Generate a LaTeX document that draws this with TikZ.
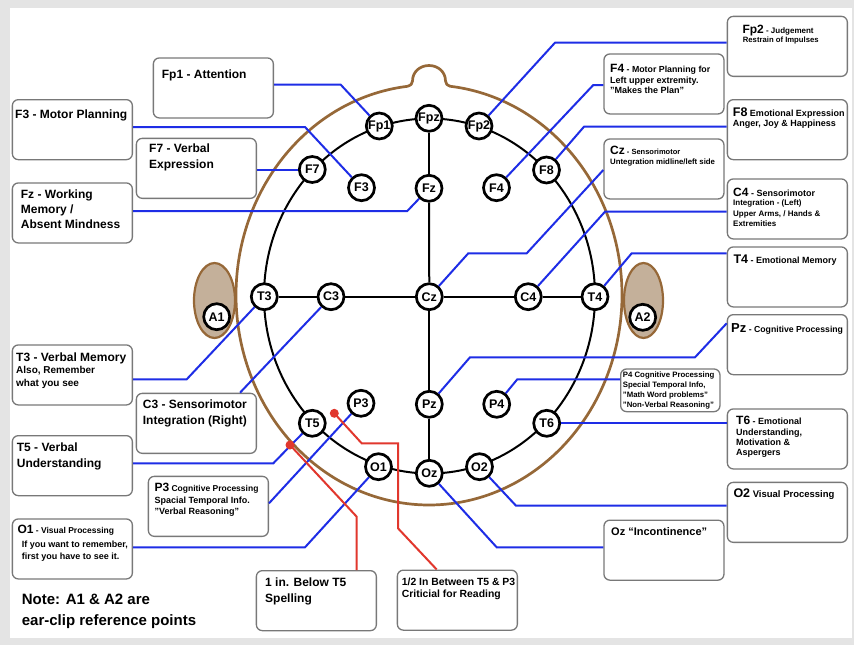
\documentclass[tikz,border=0pt]{standalone}
\usepackage{fontspec}
\setmainfont{Liberation Sans}
\newcommand{\setfs}[1]{\fontsize{#1}{#1}\selectfont}
\definecolor{headbrown}{RGB}{150,104,56}
\definecolor{earfill}{RGB}{196,176,154}
\definecolor{lineblue}{RGB}{30,45,230}
\definecolor{linered}{RGB}{225,55,45}
\definecolor{boxgray}{RGB}{120,120,120}
\definecolor{bggray}{RGB}{228,228,228}
\begin{document}
\begin{tikzpicture}[x=1pt,y=-1pt,
  elec/.style={circle, draw=black, line width=2.7pt, fill=white, minimum size=26pt, inner sep=0pt, font=\bfseries\setfs{12.5}},
  lbox/.style={draw=boxgray, line width=1.3pt, rounded corners=6pt, fill=white, minimum width=120pt, minimum height=60pt, inner sep=0pt, anchor=north west},
  txt/.style={anchor=base west, inner sep=0pt, font=\bfseries, text=black},
  bl/.style={draw=lineblue, line width=2pt},
  rd/.style={draw=linered, line width=2pt},
  wire/.style={draw=black, line width=2pt},
  reddot/.style={circle, fill=linered, minimum size=9pt, inner sep=0pt}]
\useasboundingbox (0,0) rectangle (854,645);
\fill[bggray] (0,0) rectangle (854,645);
\fill[white] (10,8) rectangle (851.5,637.5);

% ears
\draw[headbrown, fill=earfill, line width=2.2pt] (214.5,300.5) ellipse [x radius=20.5pt, y radius=37.5pt];
\draw[headbrown, fill=earfill, line width=2.2pt] (643.5,300.5) ellipse [x radius=19.5pt, y radius=37.5pt];
% head with nose
\draw[headbrown, line width=2.7pt, line join=round]
  plot[domain=96.25:443.75, samples=300] ({429+193*cos(\x)},{295-210*sin(\x)})
  .. controls (447.5,85.5) and (445.5,84) .. (445.5,81)
  .. controls (445.5,71.9) and (438.1,65.5) .. (429,65.5)
  .. controls (419.9,65.5) and (412.5,71.9) .. (412.5,81)
  .. controls (412.5,84) and (410.5,85.5) .. (408,86.25);
% inner ring
\draw[wire] (429.5,296) ellipse [x radius=165.5pt, y radius=177.5pt];

% electrodes
\node[elec] (Fpz) at (429,118.3) {Fpz};
\node[elec] (Fp1) at (379.3,126) {Fp1};
\node[elec] (Fp2) at (479,126) {Fp2};
\node[elec] (F7) at (312.3,169.5) {F7};
\node[elec] (F3) at (361.5,187.7) {F3};
\node[elec] (Fz) at (429,188.3) {Fz};
\node[elec] (F4) at (496.5,187.7) {F4};
\node[elec] (F8) at (546.5,170) {F8};
\node[elec] (T3) at (264.3,296.7) {T3};
\node[elec] (C3) at (331,296.7) {C3};
\node[elec] (Cz) at (429.3,296.7) {Cz};
\node[elec] (C4) at (528.3,296.7) {C4};
\node[elec] (T4) at (595,296.7) {T4};
\node[elec] (A1) at (216.7,316.7) {A1};
\node[elec] (A2) at (642.7,317.3) {A2};
\node[elec] (P3) at (361,403.3) {P3};
\node[elec] (Pz) at (429.3,404.3) {Pz};
\node[elec] (P4) at (496.7,404.3) {P4};
\node[elec] (T5) at (312.3,423.3) {T5};
\node[elec] (T6) at (546.7,423.3) {T6};
\node[elec] (O1) at (378.5,466.7) {O1};
\node[elec] (Oz) at (429.3,473.3) {Oz};
\node[elec] (O2) at (479.5,466.7) {O2};

% midline cross
\draw[wire] (Fpz) -- (Fz);
\draw[wire] (Fz) -- (Cz);
\draw[wire] (Cz) -- (Pz);
\draw[wire] (Pz) -- (Oz);
\draw[wire] (T3) -- (C3);
\draw[wire] (C3) -- (Cz);
\draw[wire] (Cz) -- (C4);
\draw[wire] (C4) -- (T4);

% boxes
\node[lbox] (bFp1) at (152.7,57.3) {};
\node[lbox] (bF3) at (11.7,99) {};
\node[lbox] (bF7) at (135.7,137.7) {};
\node[lbox] (bFz) at (11.7,182.3) {};
\node[lbox] (bT3) at (11.7,344.3) {};
\node[lbox] (bC3) at (135.7,392.7) {};
\node[lbox] (bT5) at (11.7,435) {};
\node[lbox] (bP3) at (147.7,475.7) {};
\node[lbox] (bO1) at (11.7,518.3) {};
\node[lbox] (b1in) at (255.7,570) {};
\node[lbox] (bhalf) at (396.7,569.5) {};
\node[lbox] (bFp2) at (726.7,15.7) {};
\node[lbox] (bF4) at (603.3,53.3) {};
\node[lbox] (bF8) at (726.7,99) {};
\node[lbox] (bCz) at (603.3,138.3) {};
\node[lbox] (bC4) at (726.7,178.3) {};
\node[lbox] (bT4) at (726.7,246.3) {};
\node[lbox] (bPz) at (726.7,314) {};
\node[lbox, minimum width=99.3pt, minimum height=42.7pt] (bP4) at (620,368.3) {};
\node[lbox] (bT6) at (726.7,408.3) {};
\node[lbox] (bO2) at (726.7,481.7) {};
\node[lbox] (bOz) at (603.3,519.5) {};

% blue connectors
\draw[bl] (bFp1.east |- 0,84.7) -- (340.7,84.7) -- (Fp1);
\draw[bl] (bF3.east |- 0,127) -- (305,127) -- (F3);
\draw[bl] (bF7.east |- F7) -- (F7);
\draw[bl] (bFz.east |- 0,211) -- (407.3,211) -- (Fz);
\draw[bl] (bFp2.west |- 0,42.7) -- (555,42.7) -- (Fp2);
\draw[bl] (bF4.west |- 0,85) -- (593.3,85) -- (F4);
\draw[bl] (bF8.west |- 0,126.7) -- (584,126.7) -- (F8);
\draw[bl] (bCz.west |- 0,170) -- (526.7,253.3) -- (468.3,253.3) -- (Cz);
\draw[bl] (bC4.west |- 0,211.7) -- (605,211.7) -- (C4);
\draw[bl] (bT4.west |- 0,253.3) -- (631.7,253.3) -- (T4);
\draw[bl] (bPz.west |- 0,323.3) -- (695,357.3) -- (470,357.3) -- (Pz);
\draw[bl] (bP4.west |- 0,379.3) -- (517.3,379.3) -- (P4);
\draw[bl] (bT6.west |- T6) -- (T6);
\draw[bl] (bO2.west |- 0,505.7) -- (516,505.7) -- (O2);
\draw[bl] (bOz.west |- 0,547.3) -- (496.7,547.3) -- (Oz);
\draw[bl] (bT3.east |- 0,379.3) -- (186.7,379.3) -- (T3);
\draw[bl] (bC3.north -| 240,0) -- (C3);
\draw[bl] (bT5.east |- 0,463.3) -- (273.3,463.3) -- (T5);
\draw[bl] (bP3.east |- 0,503.3) -- (P3);
\draw[bl] (bO1.east |- 0,547.3) -- (305,547.3) -- (O1);

% red markers
\node[reddot] (r1) at (290,445) {};
\node[reddot] (r2) at (334.3,413.3) {};
\draw[rd] (r1.center) -- (356.7,516.7) -- (b1in.north -| 356.7,0);
\draw[rd] (r2.center) -- (361.7,443.3) -- (398,443.3) -- (398,528.3) -- (bhalf.north -| 436.7,0);

% left texts
\node[txt] (tFp1) at (161.7,78.3) {\setfs{12}Fp1 - Attention};
\node[txt] (tF3) at (15,118.3) {\setfs{12}F3 - Motor Planning};
\node[txt] (tF7a) at (149,152.5) {\setfs{12}F7 - Verbal};
\node[txt] (tF7b) at (149,168.3) {\setfs{12}Expression};
\node[txt] (tFza) at (20.7,198.3) {\setfs{12}Fz - Working};
\node[txt] (tFzb) at (20.7,213.6) {\setfs{12}Memory /};
\node[txt] (tFzc) at (20.7,228.6) {\setfs{12}Absent Mindness};
\node[txt] (tT3a) at (16,361) {\setfs{12}T3 - Verbal Memory};
\node[txt] (tT3b) at (16,373.6) {\setfs{10}Also, Remember};
\node[txt] (tT3c) at (16,386.3) {\setfs{10}what you see};
\node[txt] (tC3a) at (142.7,408.6) {\setfs{12}C3 - Sensorimotor};
\node[txt] (tC3b) at (142.7,424.3) {\setfs{12}Integration (Right)};
\node[txt] (tT5a) at (16.7,451) {\setfs{12}T5 - Verbal};
\node[txt] (tT5b) at (16.7,467) {\setfs{12}Understanding};
\node[txt] (tP3a) at (154.3,491.3) {{\setfs{12}P3}{\setfs{8.5} Cognitive Processing}};
\node[txt] (tP3b) at (154.3,503.3) {\setfs{9}Spacial Temporal Info.};
\node[txt] (tP3c) at (154.3,514.3) {\setfs{9}"Verbal Reasoning"};
\node[txt] (tO1a) at (17.3,533.5) {{\setfs{12}O1}{\setfs{8.5} - Visual Processing}};
\node[txt] (tO1b) at (21.7,547.2) {\setfs{9}If you want to remember,};
\node[txt] (tO1c) at (21.7,559.9) {\setfs{9}first you have to see it.};
\node[txt] (t1ina) at (265,586.6) {\setfs{12}1 in. Below T5};
\node[txt] (t1inb) at (265,602.6) {\setfs{12}Spelling};
\node[txt] (thalfa) at (401.7,585.3) {\setfs{10.4}1/2 In Between T5 \& P3};
\node[txt] (thalfb) at (401.7,597) {\setfs{10.4}Criticial for Reading};
\node[txt] (tNotea) at (21.7,604.7) {\setfs{15}Note: A1 \& A2 are};
\node[txt] (tNoteb) at (21.7,625.4) {\setfs{15}ear-clip reference points};

% right texts
\node[txt] (tFp2a) at (742.3,33.6) {{\setfs{12}Fp2}{\setfs{8} - Judgement}};
\node[txt] (tFp2b) at (742.7,42.8) {\setfs{7.7}Restrain of Impulses};
\node[txt] (tF4a) at (610,72) {{\setfs{12}F4}{\setfs{8.8} - Motor Planning for}};
\node[txt] (tF4b) at (610,83.2) {\setfs{9}Left upper extremity.};
\node[txt] (tF4c) at (610,93.9) {\setfs{9}"Makes the Plan"};
\node[txt] (tF8a) at (732.7,116) {{\setfs{12.5}F8}{\setfs{9} Emotional Expression}};
\node[txt] (tF8b) at (732.7,126.5) {\setfs{9}Anger, Joy \& Happiness};
\node[txt] (tCza) at (610,154.3) {{\setfs{12}Cz}{\setfs{7.5} - Sensorimotor}};
\node[txt] (tCzb) at (610,164.5) {\setfs{7.8}Untegration midline/left side};
\node[txt] (tC4a) at (733,196) {{\setfs{12}C4}{\setfs{9} - Sensorimotor}};
\node[txt] (tC4b) at (733,205.6) {\setfs{8}Integration - (Left)};
\node[txt] (tC4c) at (733,216.2) {\setfs{8}Upper Arms, / Hands \&};
\node[txt] (tC4d) at (733,226.2) {\setfs{8}Extremities};
\node[txt] (tT4) at (733.3,263.6) {{\setfs{12.5}T4}{\setfs{9} - Emotional Memory}};
\node[txt] (tPz) at (731,332) {{\setfs{13}Pz}{\setfs{8.7} - Cognitive Processing}};
\node[txt] (tP4a) at (622.7,377.2) {\setfs{7.8}P4 Cognitive Processing};
\node[txt] (tP4b) at (622.7,387.9) {\setfs{7.8}Special Temporal Info,};
\node[txt] (tP4c) at (622.7,397.2) {\setfs{7.8}"Math Word problems"};
\node[txt] (tP4d) at (622.7,407.2) {\setfs{7.8}"Non-Verbal Reasoning"};
\node[txt] (tT6a) at (736,424.9) {{\setfs{12}T6}{\setfs{9} - Emotional}};
\node[txt] (tT6b) at (736,435.5) {\setfs{9}Understanding,};
\node[txt] (tT6c) at (736,445.5) {\setfs{9}Motivation \&};
\node[txt] (tT6d) at (736,455.9) {\setfs{9}Aspergers};
\node[txt] (tO2) at (733.3,497.6) {{\setfs{12.5}O2}{\setfs{9.5} Visual Processing}};
\node[txt] (tOz) at (611,535.6) {\setfs{11}Oz “Incontinence”};
\end{tikzpicture}
\end{document}
